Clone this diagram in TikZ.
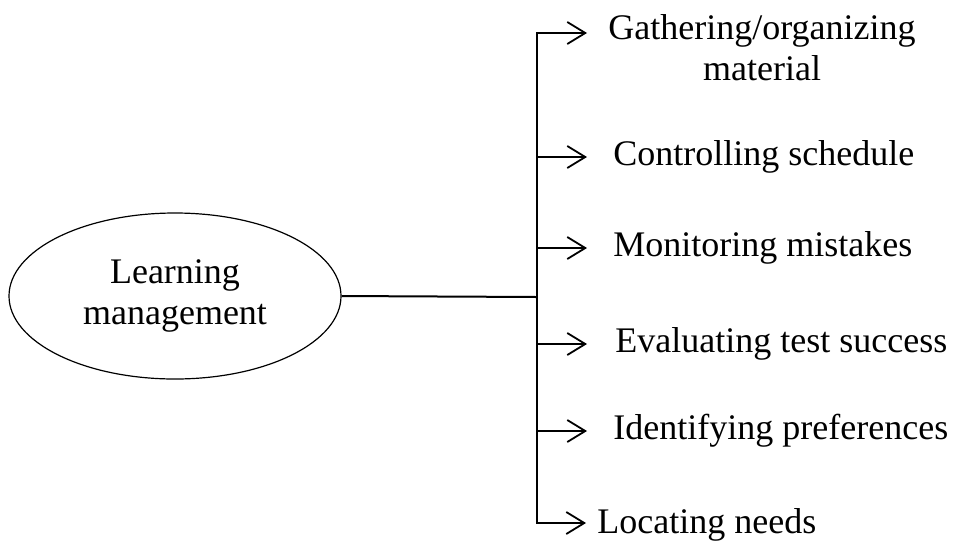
\documentclass[tikz,border=0pt]{standalone}
\usepackage{fontspec}
\setmainfont{Liberation Serif}
\usetikzlibrary{arrows.meta,positioning,shapes.geometric}

\tikzset{
  lbl/.style={font=\fontsize{18}{20.5}\selectfont,inner sep=0pt},
  brline/.style={line width=1pt},
  brarrow/.style={line width=1pt,-{Straight Barb[length=9pt,width=11pt,line width=0.9pt]}}
}

\begin{document}
\begin{tikzpicture}[x=0.5pt,y=-0.5pt]
\useasboundingbox (0,0) rectangle (962,542);

\node[ellipse,draw,line width=0.6pt,minimum width=166pt,minimum height=83pt,
      inner sep=0pt,align=center,lbl] (lm) at (175,296) {Learning\\management};

\coordinate (jn) at (537,297);
\coordinate (b2) at (537,157);
\coordinate (b3) at (537,248);
\coordinate (b4) at (537,344);
\coordinate (b5) at (537,431);

\coordinate (t1) at (587,33);
\coordinate (t2) at (587,157);
\coordinate (t3) at (587,248);
\coordinate (t4) at (587,344);
\coordinate (t5) at (587,431);
\coordinate (t6) at (586,523);

\draw[brline] (lm.east) -- (jn);
\draw[brarrow] (jn) |- (t1);
\draw[brarrow] (jn) |- (t6);
\draw[brarrow] (b2) -- (t2);
\draw[brarrow] (b3) -- (t3);
\draw[brarrow] (b4) -- (t4);
\draw[brarrow] (b5) -- (t5);

\node[lbl,align=center,below right=-9.5pt and 10.5pt of t1] (gather) {Gathering/organizing\\material};
\node[lbl,right=13pt of t2] (control) {Controlling schedule};
\node[lbl,right=13pt of t3] (monitor) {Monitoring mistakes};
\node[lbl,right=14pt of t4] (evaluate) {Evaluating test success};
\node[lbl,right=13pt of t5] (identify) {Identifying preferences};
\node[lbl,right=5.5pt of t6,yshift=-1pt] (locate) {Locating needs};

\end{tikzpicture}
\end{document}
